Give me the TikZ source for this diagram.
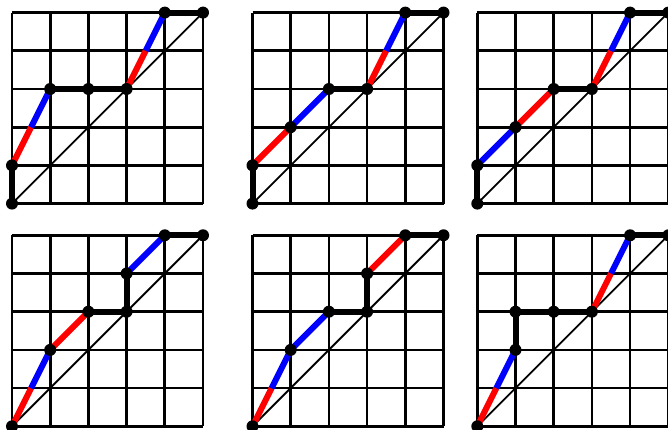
\documentclass[tikz,border=0pt]{standalone}
\usetikzlibrary{calc}
\tikzset{
  gridline/.style={line width=2.7pt, black},
  diagline/.style={line width=1.9pt, black},
  blackseg/.style={line width=6pt, black, line join=round},
  redseg/.style={line width=6pt, red},
  blueseg/.style={line width=6pt, blue},
  vertex/.style={circle, inner sep=0pt, minimum size=12pt},
  cell/.style={x=38.2pt, y=38.2pt}
}
\newcommand\latticebase{%
  \draw[gridline, step=1] (0,0) grid (5,5);
  \draw[diagline] (0,0) -- (5,5);}
\newcommand\halves[2]{%
  \draw[redseg] (#1.center) -- ($(#1.center)!0.5!(#2.center)$);
  \draw[blueseg] ($(#1.center)!0.5!(#2.center)$) -- (#2.center);}
\newcommand\vertexdots[1]{\foreach \n in {#1} \fill (\n.center) circle (6pt);}
\begin{document}
\begin{tikzpicture}[x=1pt, y=1pt]
\clip (0,0) rectangle (668,430);
% ---------- Grid 1 ----------
\begin{scope}[shift={(12pt,226.4pt)}, cell]
  \latticebase
  \node[vertex] (pa) at (0,0) {};
  \node[vertex] (pb) at (0,1) {};
  \node[vertex] (pc) at (1,3) {};
  \node[vertex] (pd) at (2,3) {};
  \node[vertex] (pe) at (3,3) {};
  \node[vertex] (pf) at (4,5) {};
  \node[vertex] (pg) at (5,5) {};
  \halves{pb}{pc}
  \halves{pe}{pf}
  \draw[blackseg] (pa.center) -- (pb.center);
  \draw[blackseg] (pc.center) -- (pd.center) -- (pe.center);
  \draw[blackseg] (pf.center) -- (pg.center);
  \vertexdots{pa,pb,pc,pd,pe,pf,pg}
\end{scope}
% ---------- Grid 2 ----------
\begin{scope}[shift={(252.5pt,226.4pt)}, cell]
  \latticebase
  \node[vertex] (qa) at (0,0) {};
  \node[vertex] (qb) at (0,1) {};
  \node[vertex] (qc) at (1,2) {};
  \node[vertex] (qd) at (2,3) {};
  \node[vertex] (qe) at (3,3) {};
  \node[vertex] (qf) at (4,5) {};
  \node[vertex] (qg) at (5,5) {};
  \draw[redseg] (qb.center) -- (qc.center);
  \draw[blueseg] (qc.center) -- (qd.center);
  \halves{qe}{qf}
  \draw[blackseg] (qa.center) -- (qb.center);
  \draw[blackseg] (qd.center) -- (qe.center);
  \draw[blackseg] (qf.center) -- (qg.center);
  \vertexdots{qa,qb,qc,qd,qe,qf,qg}
\end{scope}
% ---------- Grid 3 ----------
\begin{scope}[shift={(477.3pt,226.4pt)}, cell]
  \latticebase
  \node[vertex] (ra) at (0,0) {};
  \node[vertex] (rb) at (0,1) {};
  \node[vertex] (rc) at (1,2) {};
  \node[vertex] (rd) at (2,3) {};
  \node[vertex] (re) at (3,3) {};
  \node[vertex] (rf) at (4,5) {};
  \node[vertex] (rg) at (5,5) {};
  \draw[blueseg] (rb.center) -- (rc.center);
  \draw[redseg] (rc.center) -- (rd.center);
  \halves{re}{rf}
  \draw[blackseg] (ra.center) -- (rb.center);
  \draw[blackseg] (rd.center) -- (re.center);
  \draw[blackseg] (rf.center) -- (rg.center);
  \vertexdots{ra,rb,rc,rd,re,rf,rg}
\end{scope}
% ---------- Grid 4 ----------
\begin{scope}[shift={(12pt,3.7pt)}, cell]
  \latticebase
  \node[vertex] (sa) at (0,0) {};
  \node[vertex] (sb) at (1,2) {};
  \node[vertex] (sc) at (2,3) {};
  \node[vertex] (sd) at (3,3) {};
  \node[vertex] (se) at (3,4) {};
  \node[vertex] (sf) at (4,5) {};
  \node[vertex] (sg) at (5,5) {};
  \halves{sa}{sb}
  \draw[redseg] (sb.center) -- (sc.center);
  \draw[blueseg] (se.center) -- (sf.center);
  \draw[blackseg] (sc.center) -- (sd.center) -- (se.center);
  \draw[blackseg] (sf.center) -- (sg.center);
  \vertexdots{sa,sb,sc,sd,se,sf,sg}
\end{scope}
% ---------- Grid 5 ----------
\begin{scope}[shift={(252.5pt,3.7pt)}, cell]
  \latticebase
  \node[vertex] (ta) at (0,0) {};
  \node[vertex] (tb) at (1,2) {};
  \node[vertex] (tc) at (2,3) {};
  \node[vertex] (td) at (3,3) {};
  \node[vertex] (te) at (3,4) {};
  \node[vertex] (tf) at (4,5) {};
  \node[vertex] (tg) at (5,5) {};
  \halves{ta}{tb}
  \draw[blueseg] (tb.center) -- (tc.center);
  \draw[redseg] (te.center) -- (tf.center);
  \draw[blackseg] (tc.center) -- (td.center) -- (te.center);
  \draw[blackseg] (tf.center) -- (tg.center);
  \vertexdots{ta,tb,tc,td,te,tf,tg}
\end{scope}
% ---------- Grid 6 ----------
\begin{scope}[shift={(477.3pt,3.7pt)}, cell]
  \latticebase
  \node[vertex] (ua) at (0,0) {};
  \node[vertex] (ub) at (1,2) {};
  \node[vertex] (uc) at (1,3) {};
  \node[vertex] (ud) at (2,3) {};
  \node[vertex] (ue) at (3,3) {};
  \node[vertex] (uf) at (4,5) {};
  \node[vertex] (ug) at (5,5) {};
  \halves{ua}{ub}
  \halves{ue}{uf}
  \draw[blackseg] (ub.center) -- (uc.center) -- (ud.center) -- (ue.center);
  \draw[blackseg] (uf.center) -- (ug.center);
  \vertexdots{ua,ub,uc,ud,ue,uf,ug}
\end{scope}
\end{tikzpicture}
\end{document}
